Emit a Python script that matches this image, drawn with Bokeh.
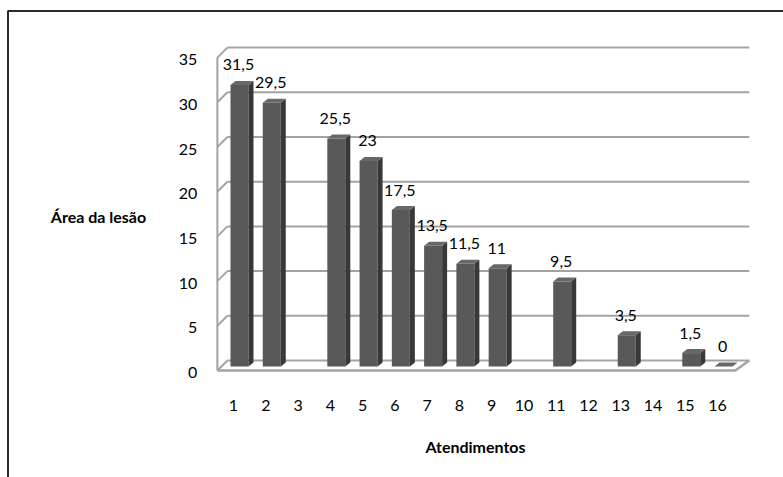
from bokeh.plotting import figure
from bokeh.models import Range1d
from bokeh.core.properties import value
from bokeh.embed import file_html
from bokeh.resources import INLINE

# Data
categories = list(range(1, 17))
areas = [31.5, 29.5, None, 25.5, 23, 17.5, 13.5, 11.5, 11, None, 9.5, None, 3.5, None, 1.5, 0]
y_ticks = [0, 5, 10, 15, 20, 25, 30, 35]
x_tick_labels = [str(c) for c in categories]
y_title = "Área da lesão"
x_title = "Atendimentos"

# Canvas geometry: the frame covers the whole canvas, so data units map
# linearly onto pixels (category 1 at x=233px, value 0 at y=370px).
W, H = 783, 477
PX_X, PX_Y = 32.27, 8.94
ORIGIN_X, ORIGIN_Y = 233, 370


def px_x(n):
    return n / PX_X


def px_y(n):
    return n / PX_Y


def at_x(px):
    return 1 + (px - ORIGIN_X) / PX_X


def at_y(py):
    return (ORIGIN_Y - py) / PX_Y


FONT = value("Lato")
SIZE = "16px"
GRID = "#a3a3a3"
FRONT, SIDE, TOPC = "#595959", "#383838", "#686868"

p = figure(width=W, height=H, output_backend="svg", toolbar_location=None,
           x_range=Range1d(at_x(0), at_x(W)), y_range=Range1d(at_y(H), at_y(0)),
           x_axis_location=None, y_axis_location=None, min_border=0)
p.grid.visible = False
p.outline_line_color = None
p.background_fill_color = "white"
p.border_fill_color = "white"

# Box around the chart area
p.line(x=[at_x(7.5), at_x(7.5), at_x(W + 5)], y=[at_y(H + 5), at_y(10.5), at_y(10.5)],
       line_color="#2b2b2b", line_width=2)

# 3D walls: back wall gridlines, side wall diagonals, floor
WALL_L, WALL_R = 0.5, 16.55
WALL_DX, WALL_DY = px_x(10), px_y(10)
top = y_ticks[-1]
n = len(y_ticks)
p.segment(x0=[WALL_L + WALL_DX] * n, y0=[t + WALL_DY for t in y_ticks],
          x1=[WALL_R + WALL_DX + px_x(4)] * n, y1=[t + WALL_DY for t in y_ticks],
          line_color=GRID, line_width=2)
p.segment(x0=[WALL_L] * n, y0=y_ticks,
          x1=[WALL_L + WALL_DX] * n, y1=[t + WALL_DY for t in y_ticks],
          line_color=GRID, line_width=2)
p.line(x=[WALL_L, WALL_L], y=[0, top], line_color=GRID, line_width=2)
p.line(x=[WALL_L, WALL_R, WALL_R + WALL_DX + px_x(4)], y=[0, 0, WALL_DY],
       line_color=GRID, line_width=2.5)

# Bars (front face, side face and top)
BX, BY = px_x(6), px_y(4)
HW = px_x(9)
DD_X, DD_Y = px_x(5), px_y(4)

fl, fr, fb, ft = [], [], [], []
side_xs, side_ys, top_xs, top_ys = [], [], [], []
lab_x, lab_y, lab_t = [], [], []
for c, v in zip(categories, areas):
    if v is None:
        continue
    l, r = c + BX - HW, c + BX + HW
    b, t = BY, v + BY
    fl.append(l); fr.append(r); fb.append(b); ft.append(t)
    side_xs.append([r, r + DD_X, r + DD_X, r])
    side_ys.append([b, b + DD_Y, t + DD_Y, t])
    top_xs.append([l, r, r + DD_X, l + DD_X])
    top_ys.append([t, t, t + DD_Y, t + DD_Y])
    lab_x.append(c + px_x(5))
    lab_y.append(v + px_y(24))
    lab_t.append(f"{v:g}".replace(".", ","))

p.quad(left=fl, right=fr, bottom=fb, top=ft, fill_color=FRONT, line_color=None)
p.patches(xs=side_xs, ys=side_ys, fill_color=SIDE, line_color=None)
p.patches(xs=top_xs, ys=top_ys, fill_color=TOPC, line_color=None)

# Value labels
p.text(x=lab_x, y=lab_y, text=lab_t, text_font=FONT, text_font_size=SIZE,
       text_align="center", text_baseline="middle", text_color="black")

# Y tick labels
p.text(x=[WALL_L - px_x(20)] * n, y=y_ticks, text=[str(t) for t in y_ticks],
       y_offset=2, text_font=FONT, text_font_size=SIZE,
       text_align="right", text_baseline="middle", text_color="black")

# Category tick labels
p.text(x=categories, y=[at_y(405)] * len(categories), text=x_tick_labels,
       text_font=FONT, text_font_size=SIZE,
       text_align="center", text_baseline="middle", text_color="black")

# Axis titles
p.text(x=[at_x(98)], y=[at_y(216)], text=[y_title], text_font=FONT,
       text_font_size=SIZE, text_font_style="bold",
       text_align="center", text_baseline="middle", text_color="black")
p.text(x=[at_x(475)], y=[at_y(446)], text=[x_title], text_font=FONT,
       text_font_size=SIZE, text_font_style="bold",
       text_align="center", text_baseline="middle", text_color="black")

open("out.html", "w").write(file_html(p, INLINE))
